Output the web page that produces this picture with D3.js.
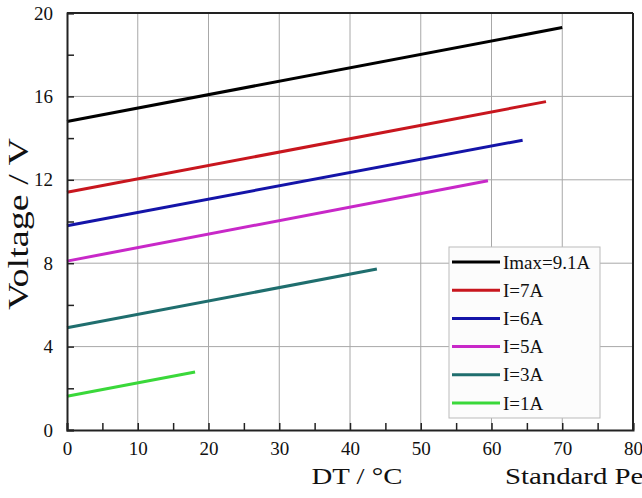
<!DOCTYPE html>
<html>
<head>
<meta charset="utf-8">
<script src="https://d3js.org/d3.v7.min.js"></script>
<style>
  body { margin: 0; background: #fff; }
  svg text { font-family: "Liberation Serif", "Times New Roman", serif; fill: #111; }
</style>
</head>
<body>
<svg id="chart" width="642" height="498"></svg>
<script>
// series data (DT in degC, voltage in V)
var seriesNames = ["Imax=9.1A", "I=7A", "I=6A", "I=5A", "I=3A", "I=1A"];
var seriesColors = ["#000000", "#c8161e", "#1414a8", "#c828c8", "#1f6e6e", "#3ad83a"];
var dtValues = [
    [0, 70],
    [0, 67.7],
    [0, 64.4],
    [0, 59.5],
    [0, 43.8],
    [0, 18.1]
];
var voltValues = [
    [14.8, 19.3],
    [11.4, 15.75],
    [9.8, 13.9],
    [8.1, 11.95],
    [4.9, 7.72],
    [1.62, 2.78]
];
var xTicks = [0, 10, 20, 30, 40, 50, 60, 70, 80];
var yTicks = [0, 4, 8, 12, 16, 20];

var margin = {left: 67, top: 13, right: 9, bottom: 68};
var width = 642 - margin.left - margin.right,
    height = 498 - margin.top - margin.bottom;

var svg = d3.select("#chart");
var g = svg.append("g").attr("transform", "translate(" + margin.left + "," + margin.top + ")");

var x = d3.scaleLinear().domain([0, 80]).range([0, width]);
var y = d3.scaleLinear().domain([0, 20]).range([height, 0]);

// grid
g.append("g").selectAll("line").data(xTicks.slice(1, -1)).enter().append("line")
    .attr("x1", d => x(d)).attr("x2", d => x(d))
    .attr("y1", 0).attr("y2", height)
    .attr("stroke", "#a8a8a8").attr("stroke-width", 1);
g.append("g").selectAll("line").data(yTicks.slice(1, -1)).enter().append("line")
    .attr("y1", d => y(d)).attr("y2", d => y(d))
    .attr("x1", 0).attr("x2", width)
    .attr("stroke", "#a8a8a8").attr("stroke-width", 1);

// lines
var line = d3.line().x(d => x(d[0])).y(d => y(d[1]));
seriesNames.forEach(function(name, i) {
    var pts = dtValues[i].map((t, j) => [t, voltValues[i][j]]);
    g.append("path")
        .datum(pts)
        .attr("d", line)
        .attr("fill", "none")
        .attr("stroke", seriesColors[i])
        .attr("stroke-width", 3);
});

// axes (ticks inward)
var xAxis = g.append("g").attr("transform", "translate(0," + height + ")")
    .call(d3.axisBottom(x).tickValues(d3.range(0, 81, 5)).tickSize(-7).tickPadding(12)
        .tickFormat(d => d % 10 === 0 ? d : ""));
var yAxis = g.append("g")
    .call(d3.axisLeft(y).tickValues(d3.range(0, 21, 2)).tickSize(-7).tickPadding(14)
        .tickFormat(d => d % 4 === 0 ? d : ""));
[xAxis, yAxis].forEach(function(a) {
    a.select(".domain").attr("stroke", "#222").attr("stroke-width", 2);
    a.selectAll(".tick line").attr("stroke", "#222").attr("stroke-width", 1.5);
    a.selectAll("text").style("font-size", "19px").attr("fill", "#111");
});
yAxis.selectAll("text").attr("dy", "0.32em");

// top and right borders
g.append("line").attr("x1", 0).attr("x2", width).attr("y1", 0).attr("y2", 0)
    .attr("stroke", "#222").attr("stroke-width", 2);
g.append("line").attr("x1", width).attr("x2", width).attr("y1", 0).attr("y2", height)
    .attr("stroke", "#222").attr("stroke-width", 2);

// axis titles (glyphs are a bit wide in the original, so stretch along the text)
svg.append("text")
    .attr("transform", "translate(" + 28 + "," + 224 + ") rotate(-90) scale(1.27,1)")
    .attr("text-anchor", "middle")
    .style("font-size", "30px")
    .text("Voltage / V");
svg.append("text")
    .attr("transform", "translate(357,484) scale(1.2,1)")
    .attr("text-anchor", "middle")
    .style("font-size", "24px")
    .text("DT / °C");
svg.append("text")
    .attr("transform", "translate(505,484) scale(1.2,1)")
    .style("font-size", "24px")
    .text("Standard Performance");

// legend
var legend = svg.append("g").attr("transform", "translate(449,247)");
legend.append("rect")
    .attr("width", 151).attr("height", 171)
    .attr("fill", "#fcfcfc").attr("stroke", "#bbb").attr("stroke-width", 1);
seriesNames.forEach(function(name, i) {
    var ly = 15 + i * 28.2;
    legend.append("line")
        .attr("x1", 3).attr("x2", 51).attr("y1", ly).attr("y2", ly)
        .attr("stroke", seriesColors[i]).attr("stroke-width", 3);
    legend.append("text")
        .attr("x", 54).attr("y", ly).attr("dy", "0.35em")
        .style("font-size", "19px")
        .text(name);
});
</script>
</body>
</html>
